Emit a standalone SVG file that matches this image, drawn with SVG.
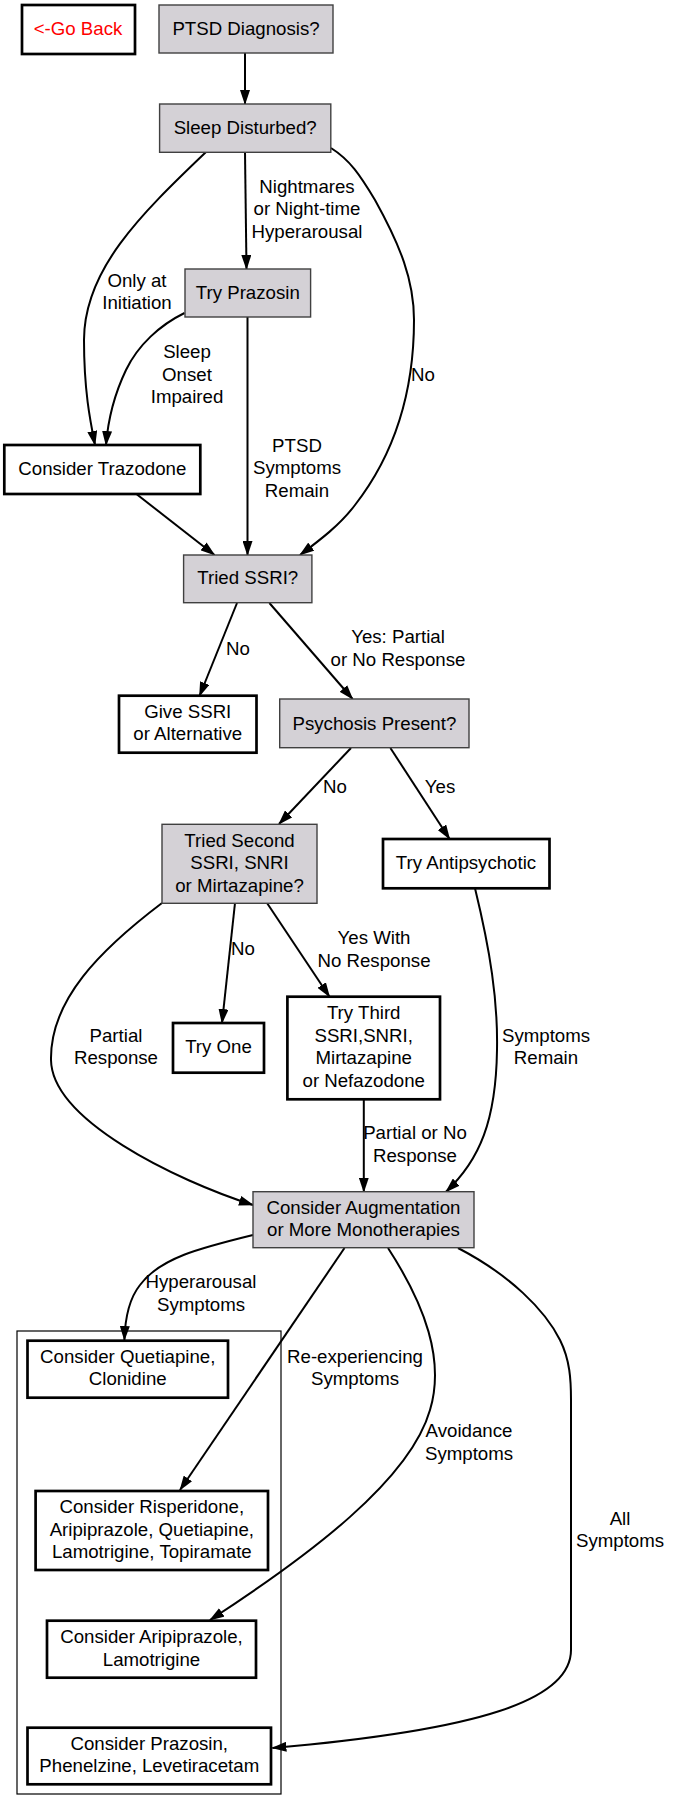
<svg xmlns="http://www.w3.org/2000/svg" width="673" height="1811" viewBox="0 0 673 1811">
<defs>
<marker id="ah" markerUnits="userSpaceOnUse" markerWidth="15" markerHeight="10" viewBox="0 0 15 10" refX="14" refY="5" orient="auto">
<path d="M0,0 L15,5 L0,10 z" fill="#000"/>
</marker>
<style>
text{font-family:"Liberation Sans",Arial,sans-serif;font-size:18.67px;fill:#000;text-anchor:middle}
.q{fill:#d4d1d6;stroke:#404040;stroke-width:1.4}
.a{fill:#fff;stroke:#000;stroke-width:2.7}
.e{fill:none;stroke:#000;stroke-width:2;marker-end:url(#ah)}
.red{fill:#ff0000}
</style>
</defs>
<rect width="673" height="1811" fill="#fff"/>
<rect x="17" y="1331" width="264" height="463" fill="none" stroke="#000" stroke-width="1.2"/>
<g id="connectors">
<path class="e" d="M245,53 L245,104"/>
<path class="e" d="M245,152 L246.5,269"/>
<path class="e" d="M206,152 C140,215 84,270 84,340 C84,390 90,420 95,445"/>
<path class="e" d="M184.5,313 C160,325 138,345 126,370 C114,395 108,420 106,445"/>
<path class="e" d="M247.5,317 L247.5,555"/>
<path class="e" d="M331,148 C350,160 360,175 375,200 C400,245 414,280 414,320 C414,400 390,460 355,505 C340,525 320,540 300,555"/>
<path class="e" d="M136.4,494 L214.5,555"/>
<path class="e" d="M237,603 L199.5,696"/>
<path class="e" d="M269.4,603 L352.6,699"/>
<path class="e" d="M351,748 L279,824"/>
<path class="e" d="M390.4,748 L449.6,839"/>
<path class="e" d="M162,903 C100,950 50,1000 51,1060 C52,1120 175,1180 253,1205"/>
<path class="e" d="M235,903 L222,1023"/>
<path class="e" d="M267,903 L329.5,996.7"/>
<path class="e" d="M363.8,1099.3 L363.8,1191.7"/>
<path class="e" d="M475,888.3 C490,950 498,1000 497,1050 C496,1120 480,1160 446,1191.7"/>
<path class="e" d="M253,1235 C200,1248 160,1258 140,1285 C128,1300 125,1320 124.4,1340"/>
<path class="e" d="M344.5,1248 L180,1490"/>
<path class="e" d="M388,1248 C425,1305 445,1360 430,1410 C410,1480 310,1555 210,1620"/>
<path class="e" d="M458,1248 C510,1275 545,1310 560,1340 C570,1360 571,1380 571,1400 L571,1650 C571,1700 480,1730 272.4,1748"/>
</g>
<g id="edge-labels">
<text x="307" y="193">Nightmares</text>
<text x="307" y="215">or Night-time</text>
<text x="307" y="238">Hyperarousal</text>
<text x="137" y="287">Only at</text>
<text x="137" y="309">Initiation</text>
<text x="187" y="358">Sleep</text>
<text x="187" y="381">Onset</text>
<text x="187" y="403">Impaired</text>
<text x="297" y="452">PTSD</text>
<text x="297" y="474">Symptoms</text>
<text x="297" y="497">Remain</text>
<text x="423" y="381">No</text>
<text x="238" y="655">No</text>
<text x="398" y="643">Yes: Partial</text>
<text x="398" y="666">or No Response</text>
<text x="335" y="793">No</text>
<text x="440" y="793">Yes</text>
<text x="243" y="955">No</text>
<text x="374" y="944">Yes With</text>
<text x="374" y="967">No Response</text>
<text x="116" y="1042">Partial</text>
<text x="116" y="1064">Response</text>
<text x="546" y="1042">Symptoms</text>
<text x="546" y="1064">Remain</text>
<text x="415" y="1139">Partial or No</text>
<text x="415" y="1162">Response</text>
<text x="201" y="1288">Hyperarousal</text>
<text x="201" y="1311">Symptoms</text>
<text x="355" y="1363">Re-experiencing</text>
<text x="355" y="1385">Symptoms</text>
<text x="469" y="1437">Avoidance</text>
<text x="469" y="1460">Symptoms</text>
<text x="620" y="1525">All</text>
<text x="620" y="1547">Symptoms</text>
</g>
<g id="goback"><rect class="a" x="22" y="5" width="113" height="49"/><text class="red" x="78" y="35">&lt;-Go Back</text></g>
<g id="ptsd"><rect class="q" x="159" y="5" width="174" height="48"/><text x="246" y="35">PTSD Diagnosis?</text></g>
<g id="sleep"><rect class="q" x="159.6" y="104" width="171.2" height="48.3"/><text x="245.2" y="134">Sleep Disturbed?</text></g>
<g id="prazosin"><rect class="q" x="185" y="269" width="125.6" height="48"/><text x="247.8" y="299">Try Prazosin</text></g>
<g id="trazodone"><rect class="a" x="4.3" y="445" width="196" height="49"/><text x="102.3" y="475">Consider Trazodone</text></g>
<g id="ssri"><rect class="q" x="183.6" y="555" width="128.3" height="47.7"/><text x="247.75" y="584">Tried SSRI?</text></g>
<g id="givessri"><rect class="a" x="119" y="695.7" width="137.5" height="57"/><text x="187.75" y="718">Give SSRI</text><text x="187.75" y="740">or Alternative</text></g>
<g id="psychosis"><rect class="q" x="279.7" y="699" width="189.3" height="48.7"/><text x="374.4" y="730">Psychosis Present?</text></g>
<g id="second"><rect class="q" x="162" y="824.3" width="155" height="79"/><text x="239.5" y="847">Tried Second</text><text x="239.5" y="869">SSRI, SNRI</text><text x="239.5" y="892">or Mirtazapine?</text></g>
<g id="antipsychotic"><rect class="a" x="383" y="839" width="166.5" height="49.3"/><text x="466" y="869">Try Antipsychotic</text></g>
<g id="tryone"><rect class="a" x="173" y="1023" width="91" height="49.7"/><text x="218.5" y="1053">Try One</text></g>
<g id="third"><rect class="a" x="287.4" y="996.7" width="152.6" height="102.6"/><text x="363.7" y="1019">Try Third</text><text x="363.7" y="1042">SSRI,SNRI,</text><text x="363.7" y="1064">Mirtazapine</text><text x="363.7" y="1087">or Nefazodone</text></g>
<g id="augment"><rect class="q" x="253" y="1191.7" width="221" height="56"/><text x="363.5" y="1213.5">Consider Augmentation</text><text x="363.5" y="1236">or More Monotherapies</text></g>
<g id="quetiapine"><rect class="a" x="27.5" y="1340.7" width="200.5" height="57"/><text x="127.75" y="1363">Consider Quetiapine,</text><text x="127.75" y="1385">Clonidine</text></g>
<g id="risperidone"><rect class="a" x="35.6" y="1491" width="232.4" height="79"/><text x="151.8" y="1513">Consider Risperidone,</text><text x="151.8" y="1536">Aripiprazole, Quetiapine,</text><text x="151.8" y="1558">Lamotrigine, Topiramate</text></g>
<g id="aripiprazole"><rect class="a" x="47" y="1620.7" width="209" height="57"/><text x="151.5" y="1643">Consider Aripiprazole,</text><text x="151.5" y="1666">Lamotrigine</text></g>
<g id="prazosin2"><rect class="a" x="27.5" y="1727.7" width="243.5" height="56.6"/><text x="149.25" y="1750">Consider Prazosin,</text><text x="149.25" y="1772">Phenelzine, Levetiracetam</text></g>
</svg>
